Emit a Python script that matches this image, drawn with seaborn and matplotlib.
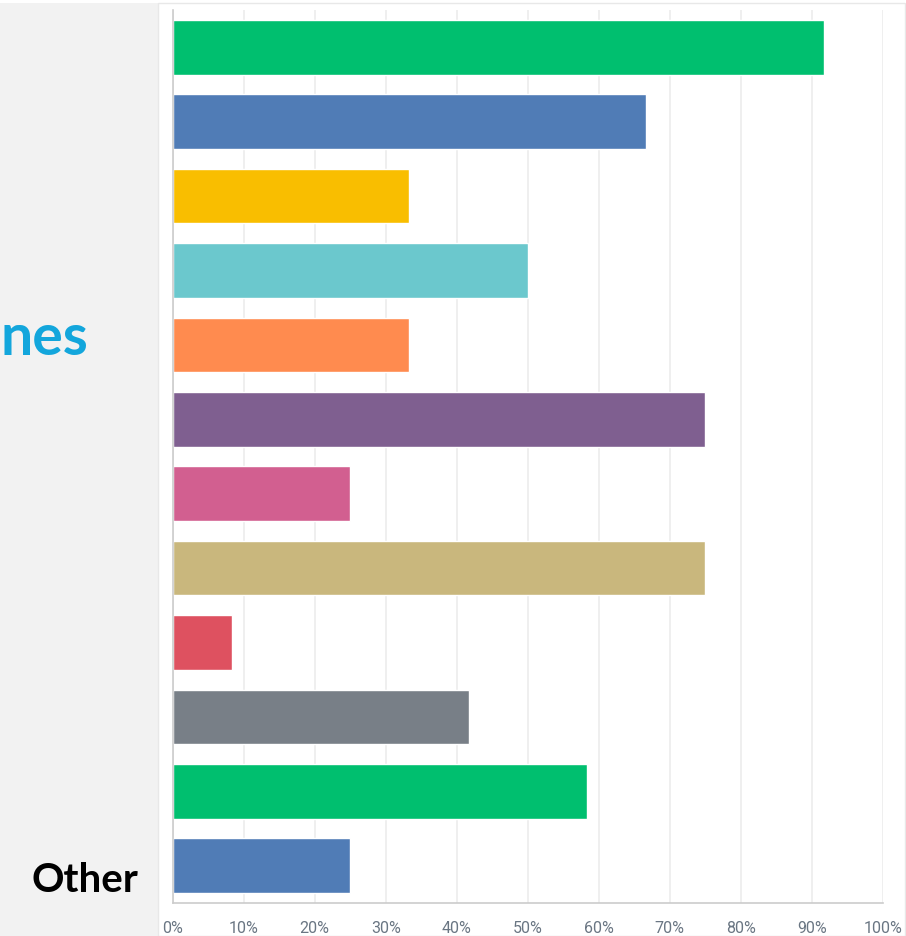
import pandas as pd
import matplotlib.pyplot as plt
import seaborn as sns
from matplotlib.patches import Rectangle

# answer choices, top to bottom (only "Other" is readable in the source)
choices = ['Choice 1', 'Choice 2', 'Choice 3', 'Choice 4', 'Choice 5', 'Choice 6',
           'Choice 7', 'Choice 8', 'Choice 9', 'Choice 10', 'Choice 11', 'Other']
pct = [91.67, 66.67, 33.33, 50.0, 33.33, 75.0, 25.0, 75.0, 8.33, 41.67, 58.33, 25.0]
bar_colors = ['#00bf6f', '#507cb6', '#f9be00', '#6bc8cd', '#ff8b4f', '#7f5f90',
              '#d25f90', '#c9b77d', '#de5160', '#787f87', '#00bf6f', '#507cb6']
xticks = [0, 10, 20, 30, 40, 50, 60, 70, 80, 90, 100]
xtick_labels = [f'{t}%' for t in xticks]
side_title = 'nes'

df = pd.DataFrame({'choice': choices, 'pct': pct})

sns.set_style('white')
plt.rcParams['font.family'] = ['Lato', 'DejaVu Sans']

W, H = 906, 937
fig = plt.figure(figsize=(W / 100, H / 100), dpi=100)

# grey side panel + faint frame round the chart area
fig.patches.append(Rectangle((0, 0), 158 / W, (H - 4) / H, transform=fig.transFigure,
                             facecolor='#f2f2f2', edgecolor='none', zorder=-2))
fig.patches.append(Rectangle((158 / W, 0), (905 - 158) / W, (H - 4) / H, transform=fig.transFigure,
                             facecolor='white', edgecolor='#e8e8e8', lw=1, zorder=-2))

ax = fig.add_axes([172.7 / W, 1 - 904 / H, 710 / W, 893 / H])
ax.set_zorder(1)
ax.set_facecolor('none')
sns.barplot(data=df, y='choice', x='pct', hue='choice', palette=bar_colors,
            legend=False, width=0.735, orient='h', saturation=1, ax=ax)

ax.set_xlim(0, 100)
ax.set_ylim(11.5, -0.5)
ax.set_xticks(xticks)
ax.set_xticklabels(xtick_labels, color='#6a7683', fontsize=11.5, family='Roboto')
ax.tick_params(axis='x', length=0, pad=12)
ax.tick_params(axis='y', left=False, labelleft=False)
ax.grid(axis='x', color='#ececec', lw=1.2)
ax.set_axisbelow(True)
ax.set_xlabel('')
ax.set_ylabel('')
for s in ['top', 'right']:
    ax.spines[s].set_visible(False)
for s in ['left', 'bottom']:
    ax.spines[s].set_color('#cccccc')
    ax.spines[s].set_linewidth(1.2)

fig.text(1 / W, 1 - 355 / H, side_title, ha='left', va='baseline',
         fontsize=41, fontweight='bold', color='#13a6dc')
fig.text(138 / W, 1 - 891.7 / H, choices[-1], ha='right', va='baseline',
         fontsize=29, fontweight='bold', color='black')

fig.savefig('out.png', dpi=100)
